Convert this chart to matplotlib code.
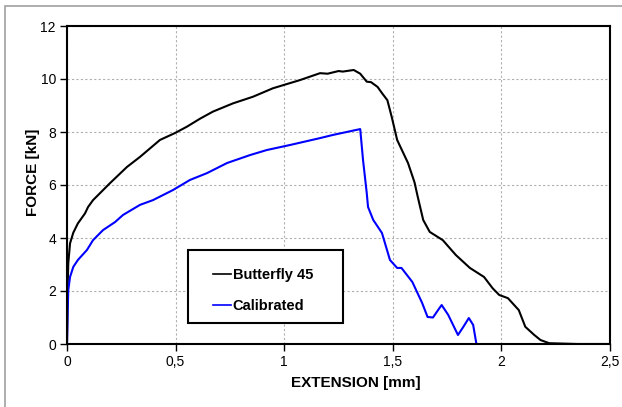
import numpy as np
import matplotlib
matplotlib.use("Agg")
import matplotlib.pyplot as plt
from matplotlib.patches import Rectangle
from matplotlib.ticker import FuncFormatter

plt.rcParams['font.family'] = ['Liberation Sans', 'DejaVu Sans']

# Butterfly 45 curve (extension mm, force kN)
bf_x = [0, 0.003, 0.006, 0.014, 0.029, 0.05, 0.083, 0.097, 0.12, 0.198, 0.276,
        0.336, 0.428, 0.497, 0.552, 0.612, 0.672, 0.764, 0.856, 0.948, 1.073,
        1.165, 1.2, 1.25, 1.27, 1.32, 1.35, 1.38, 1.40, 1.43, 1.45, 1.475,
        1.495, 1.52, 1.57, 1.60, 1.615, 1.625, 1.64, 1.67, 1.73, 1.79, 1.855,
        1.92, 1.96, 1.99, 2.03, 2.08, 2.11, 2.15, 2.18, 2.22, 2.35, 2.5]
bf_y = [0, 2.2, 3.06, 3.8, 4.2, 4.55, 4.93, 5.17, 5.43, 6.07, 6.68,
        7.06, 7.7, 7.96, 8.2, 8.5, 8.77, 9.08, 9.33, 9.65, 9.96,
        10.22, 10.2, 10.3, 10.28, 10.34, 10.2, 9.9, 9.88, 9.7, 9.47, 9.2,
        8.57, 7.7, 6.83, 6.1, 5.55, 5.2, 4.68, 4.23, 3.92, 3.36, 2.87,
        2.53, 2.1, 1.85, 1.73, 1.28, 0.65, 0.35, 0.15, 0.03, 0.0, 0.0]

# Calibrated curve
cal_x = [0, 0.003, 0.006, 0.014, 0.029, 0.05, 0.092, 0.12, 0.166, 0.221, 0.258,
         0.336, 0.396, 0.488, 0.566, 0.645, 0.737, 0.843, 0.92, 1.027, 1.165,
         1.225, 1.35, 1.363, 1.38, 1.386, 1.41, 1.45, 1.487, 1.52, 1.54, 1.59,
         1.635, 1.66, 1.685, 1.71, 1.725, 1.755, 1.80, 1.825, 1.85, 1.87, 1.885]
cal_y = [0, 1.2, 2.04, 2.53, 2.91, 3.17, 3.55, 3.92, 4.3, 4.6, 4.87,
         5.25, 5.43, 5.81, 6.19, 6.45, 6.83, 7.13, 7.32, 7.51, 7.77,
         7.89, 8.11, 6.94, 5.7, 5.17, 4.68, 4.19, 3.17, 2.87, 2.87, 2.34,
         1.55, 1.02, 1.0, 1.3, 1.47, 1.1, 0.34, 0.65, 0.98, 0.72, 0.0]

fig = plt.figure(figsize=(6.22, 4.07), dpi=100)
fig.patches.append(Rectangle((5 / 622, -0.1), 1.2, 1.0863,
                             transform=fig.transFigure, fill=False,
                             edgecolor='#a0a0a0', linewidth=1.2))
ax = fig.add_axes([67 / 622, 1 - 344 / 407, 543 / 622, 318 / 407])

ax.plot(bf_x, bf_y, color='black', lw=1.5, label='Butterfly 45')
ax.plot(cal_x, cal_y, color='#0000ff', lw=1.5, label='Calibrated')

ax.set_xlim(0, 2.5)
ax.set_ylim(0, 12)
ax.set_xticks(np.arange(0, 2.51, 0.5))
ax.set_yticks(np.arange(0, 12.1, 2))
ax.xaxis.set_major_formatter(FuncFormatter(lambda v, p: ('%g' % v).replace('.', ',')))
ax.grid(True, color='#b0b0b0', linestyle=(0, (2, 2)), linewidth=0.8)
ax.tick_params(labelsize=10, direction='out', length=5, width=1, pad=3)
for s in ax.spines.values():
    s.set_linewidth(1.5)

ax.set_xlabel('EXTENSION [mm]', fontsize=11, fontweight='bold')
ax.set_ylabel('FORCE [kN]', fontsize=11, fontweight='bold')
ax.xaxis.set_label_coords(0.532, -0.123)
ax.yaxis.set_label_coords(-0.0626, 0.541)
ax.xaxis.label.set_va('center')
ax.yaxis.label.set_va('center')

# legend box
ax.add_patch(Rectangle((0.223, 0.066), 0.285, 0.2296, transform=ax.transAxes,
                       facecolor='white', edgecolor='black', linewidth=1.5, zorder=3))
leg = ax.legend(loc='center left', bbox_to_anchor=(0.269, 0.168), frameon=False,
                borderpad=0, borderaxespad=0, handlelength=1.2, handletextpad=0.15,
                labelspacing=1.2, prop={'weight': 'bold', 'size': 10.5})
leg.set_zorder(4)
for h in leg.get_lines():
    h.set_linewidth(1.2)

fig.savefig('out.png', dpi=100)
